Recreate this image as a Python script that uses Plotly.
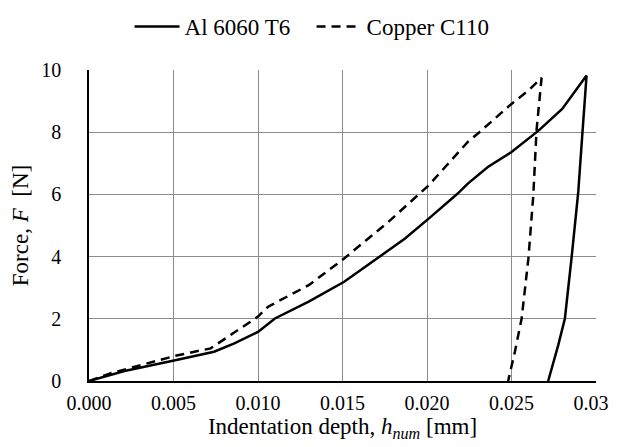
import plotly.graph_objects as go

al_x = [0.0, 0.0011, 0.0021, 0.0051, 0.0074, 0.0086, 0.0100, 0.0110, 0.0122, 0.0130,
        0.0151, 0.0173, 0.0187, 0.0201, 0.0218, 0.0224, 0.0236, 0.0250, 0.0266, 0.0280,
        0.02944, 0.0292, 0.02895, 0.02855, 0.02816, 0.02777, 0.02717]
al_y = [0.0, 0.17, 0.32, 0.67, 0.94, 1.21, 1.58, 2.01, 2.33, 2.55,
        3.19, 4.04, 4.58, 5.22, 6.02, 6.34, 6.88, 7.36, 8.05, 8.75,
        9.82, 8.0, 6.08, 3.94, 2.01, 1.16, 0.0]

cu_x = [0.0, 0.0013, 0.0051, 0.0072, 0.0100, 0.0106, 0.0130, 0.0151, 0.0177, 0.0201,
        0.0224, 0.0231, 0.0250, 0.0260, 0.02678,
        0.02648, 0.02629, 0.0260, 0.0256, 0.0252, 0.0248]
cu_y = [0.0, 0.25, 0.81, 1.05, 2.07, 2.39, 3.08, 3.94, 5.11, 6.29,
        7.68, 8.0, 8.91, 9.34, 9.75,
        8.05, 5.97, 3.94, 2.01, 0.94, 0.0]

x_ticks = [0.0, 0.005, 0.010, 0.015, 0.020, 0.025, 0.030]
y_ticks = [0, 2, 4, 6, 8, 10]

FONT = "Liberation Serif, Times New Roman, Times, serif"

fig = go.Figure()
fig.add_trace(go.Scatter(x=al_x, y=al_y, mode="lines", name="Al 6060 T6",
                         line=dict(color="black", width=2.5)))
fig.add_trace(go.Scatter(x=cu_x, y=cu_y, mode="lines", name="Copper C110",
                         line=dict(color="black", width=2.5, dash="9px,6px")))

fig.update_layout(
    width=617, height=447,
    margin=dict(l=81, r=29, t=62, b=74, autoexpand=False),
    paper_bgcolor="white", plot_bgcolor="white",
    font=dict(family=FONT, size=20, color="black"),
    showlegend=True,
    legend=dict(orientation="h", x=0.08, xanchor="left", y=1.14, yanchor="middle",
                font=dict(family=FONT, size=23), itemwidth=45, tracegroupgap=0,
                entrywidth=122, entrywidthmode="pixels",
                bgcolor="rgba(0,0,0,0)"),
)
fig.update_xaxes(range=[0, 0.030], tickvals=x_ticks, tickformat=".3f",
                 showgrid=True, gridcolor="#8c8c8c", gridwidth=1,
                 showline=True, linecolor="black", linewidth=1.5,
                 ticks="", zeroline=False, ticklabelstandoff=3,
                 tickfont=dict(family=FONT, size=20),
                 title=dict(text="Indentation depth, <i>h<sub>num</sub></i> [mm]",
                            font=dict(family=FONT, size=23), standoff=5))
fig.update_yaxes(range=[0, 10], tickvals=y_ticks,
                 showgrid=True, gridcolor="#8c8c8c", gridwidth=1,
                 showline=True, linecolor="black", linewidth=1.5,
                 ticks="", zeroline=False, ticklabelstandoff=22,
                 tickfont=dict(family=FONT, size=20),
                 title=dict(text="Force, <i>F</i>  [N]",
                            font=dict(family=FONT, size=23), standoff=6))

fig.write_html("out.html")
